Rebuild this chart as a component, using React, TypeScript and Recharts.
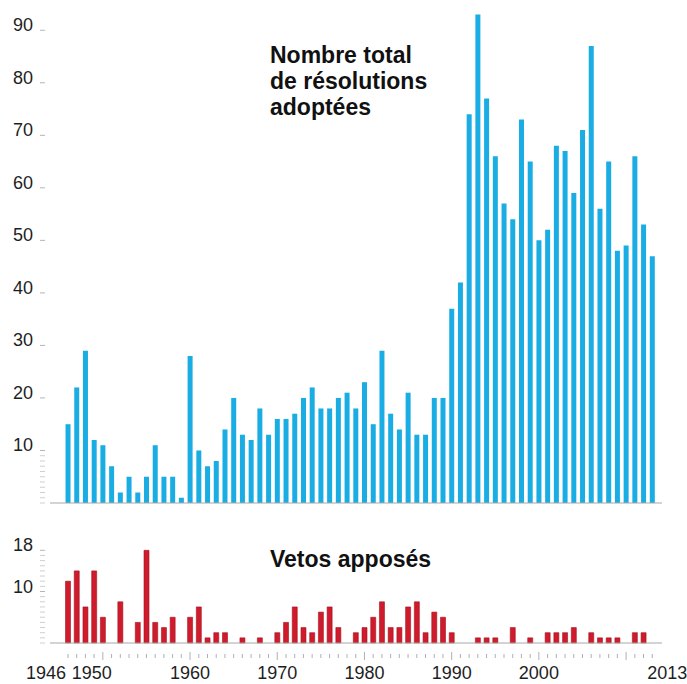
import React from "react";
import { Bar, BarChart, XAxis, YAxis } from "recharts";

// Années 1946 - 2013
const years: number[] = [];
for (let y = 1946; y <= 2013; y++) years.push(y);

const resolutions = [
  15, 22, 29, 12, 11, 7, 2, 5, 2, 5, 11, 5, 5, 1, 28, 10, 7, 8, 14, 20,
  13, 12, 18, 13, 16, 16, 17, 20, 22, 18, 18, 20, 21, 18, 23, 15, 29, 17, 14, 21,
  13, 13, 20, 20, 37, 42, 74, 93, 77, 66, 57, 54, 73, 65, 50, 52, 68, 67, 59, 71,
  87, 56, 65, 48, 49, 66, 53, 47,
];

// Vetos apposés par an
const vetos = [
  12, 14, 7, 14, 5, 0, 8, 0, 4, 18, 4, 3, 5, 0, 5, 7, 1, 2, 2, 0,
  1, 0, 1, 0, 2, 4, 7, 3, 2, 6, 7, 3, 0, 2, 3, 5, 8, 3, 3, 7,
  8, 2, 6, 5, 2, 0, 0, 1, 1, 1, 0, 3, 0, 1, 0, 2, 2, 2, 3, 0,
  2, 1, 1, 1, 0, 2, 2, 0,
];

const topTicks = [0, 1, 2, 3, 4, 5, 6, 7, 8, 9, 10, 20, 30, 40, 50, 60, 70, 80, 90];
const topLabels = [10, 20, 30, 40, 50, 60, 70, 80, 90];
const vetoTicks = [0, 1, 2, 3, 4, 5, 6, 7, 8, 9, 10, 11, 12, 13, 14, 15, 16, 17, 18];
const vetoLabels = [10, 18];
const yearLabels = [1946, 1950, 1960, 1970, 1980, 1990, 2000, 2013];
// petits décalages des étiquettes d'années comme sur l'original
const yearLabelShift: Record<number, number> = { 1946: -22, 1950: -11, 2013: 15 };

const data = years.map((year, i) => ({
  year,
  resolutions: resolutions[i],
  vetos: vetos[i],
}));

const FONT = "'Liberation Sans', Arial, Helvetica, sans-serif";
const BLUE = "#1aade4";
const RED = "#cf1b2b";

const makeYTick = (labels: number[]) => (props: any) => {
  const { y, payload } = props;
  const v = payload.value as number;
  const labeled = labels.includes(v);
  return (
    <g>
      <line x1={40} x2={45} y1={y} y2={y} stroke={labeled ? "#b5b5b5" : "#cfcfcf"} strokeWidth={1} />
      {labeled && (
        <text x={33} y={y + 1} textAnchor="end" fontSize={18} fontFamily={FONT} fill="#1e1e1e">
          {v}
        </text>
      )}
    </g>
  );
};

const YearTick = (props: any) => {
  const { x, payload } = props;
  const yr = payload.value as number;
  const decade = yr % 10 === 0;
  const labeled = yearLabels.includes(yr);
  return (
    <g>
      <line x1={x} x2={x} y1={decade ? 132 : 134} y2={decade ? 140 : 138} stroke="#b0b0b0" strokeWidth={1} />
      {labeled && (
        <text
          x={x + (yearLabelShift[yr] ?? 0)}
          y={159}
          textAnchor="middle"
          fontSize={18}
          fontFamily={FONT}
          fill="#1e1e1e"
        >
          {yr}
        </text>
      )}
    </g>
  );
};

export default function App() {
  return (
    <div style={{ position: "absolute", left: 0, top: 0, width: 687, height: 684, background: "#fff" }}>
      {/* Graphique du haut : résolutions */}
      <div style={{ position: "absolute", left: 0, top: 0 }}>
        <BarChart
          width={687}
          height={510}
          data={data}
          margin={{ top: 4, right: 25, left: 0, bottom: 6 }}
          barCategoryGap="22%"
        >
          <XAxis
            dataKey="year"
            height={1}
            tick={false}
            tickLine={false}
            axisLine={{ stroke: "#a8a8a8" }}
            padding={{ left: 13.6, right: 5.4 }}
          />
          <YAxis
            width={50}
            domain={[0, 95]}
            ticks={topTicks}
            interval={0}
            axisLine={false}
            tickLine={false}
            tick={makeYTick(topLabels)}
          />
          <Bar dataKey="resolutions" fill={BLUE} isAnimationActive={false} />
        </BarChart>
      </div>

      {/* Graphique du bas : vetos */}
      <div style={{ position: "absolute", left: 0, top: 520 }}>
        <BarChart
          width={687}
          height={164}
          data={data}
          margin={{ top: 20, right: 25, left: 0, bottom: 0 }}
          barCategoryGap="22%"
        >
          <XAxis
            dataKey="year"
            height={41}
            interval={0}
            tickLine={false}
            axisLine={{ stroke: "#a8a8a8" }}
            padding={{ left: 13.6, right: 5.4 }}
            tick={<YearTick />}
          />
          <YAxis
            width={50}
            domain={[0, 20]}
            ticks={vetoTicks}
            interval={0}
            axisLine={false}
            tickLine={false}
            tick={makeYTick(vetoLabels)}
          />
          <Bar dataKey="vetos" fill={RED} stroke="#a3121f" strokeWidth={0.6} isAnimationActive={false} />
        </BarChart>
      </div>

      {/* Titres */}
      <svg
        width={687}
        height={684}
        style={{ position: "absolute", left: 0, top: 0, pointerEvents: "none" }}
      >
        <g fontFamily={FONT} fontWeight="bold" fontSize={23} fill="#111">
          <text x={270} y={63}>Nombre total</text>
          <text x={270} y={89}>de résolutions</text>
          <text x={270} y={115}>adoptées</text>
          <text x={270} y={567}>Vetos apposés</text>
        </g>
      </svg>
    </div>
  );
}
